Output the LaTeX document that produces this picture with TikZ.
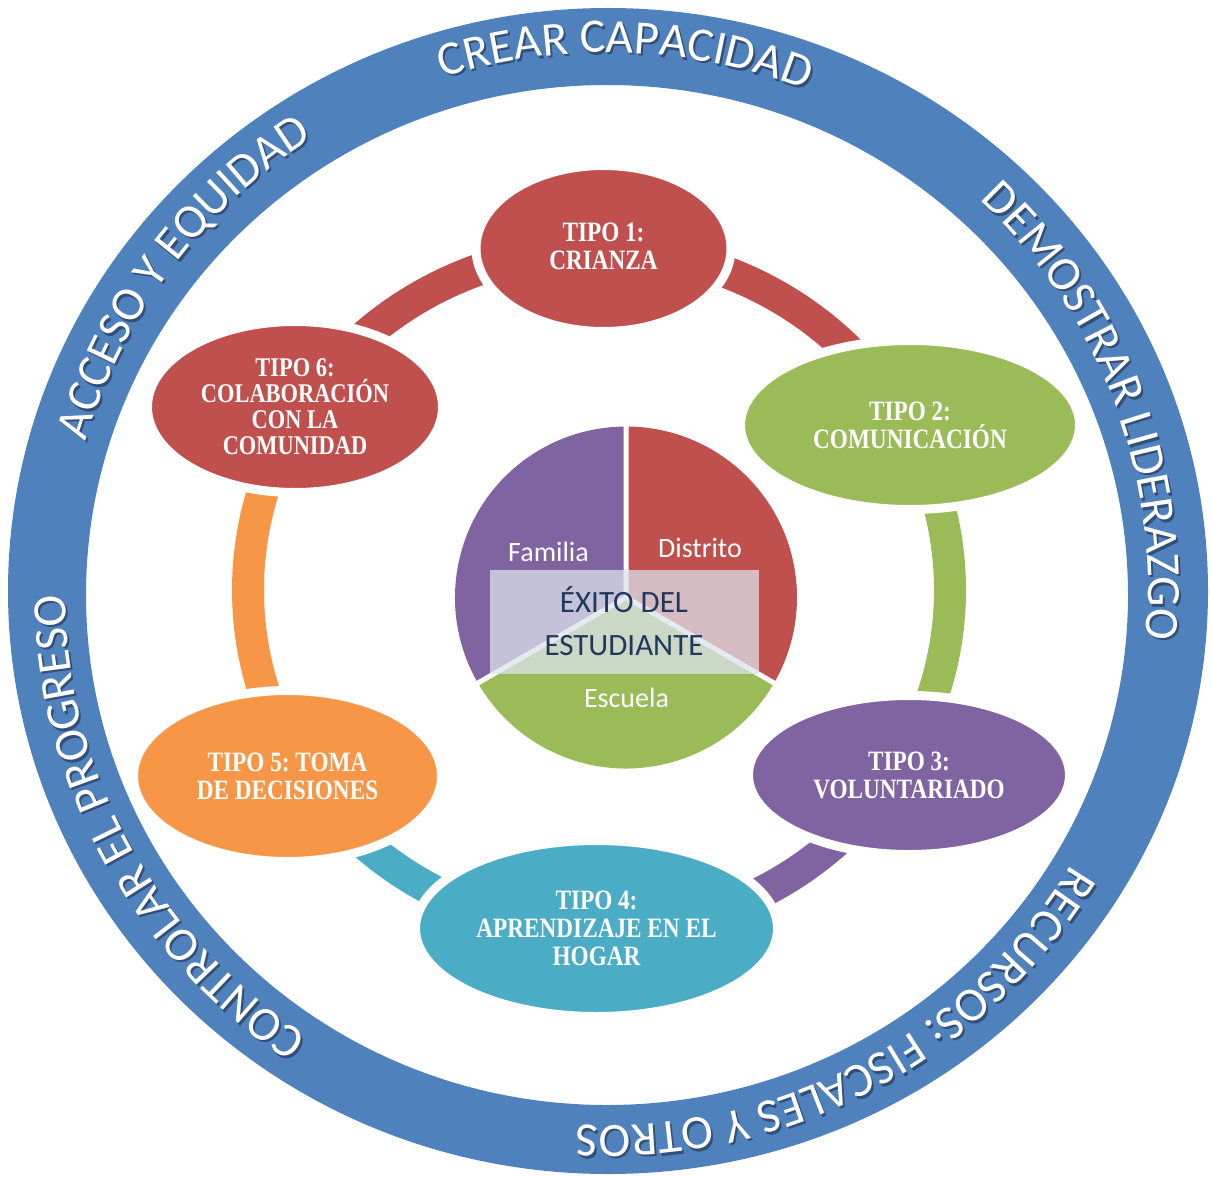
\documentclass[tikz,border=0pt]{standalone}
\usepackage{fontspec}
\usetikzlibrary{shapes.geometric,decorations.text,calc}
\setmainfont{Carlito}
\newfontfamily\ringfont{Carlito}
\newfontfamily\nodefont{Liberation Serif}[FakeStretch=0.83]
\definecolor{ringblue}{HTML}{4F81BD}
\definecolor{ringshadow}{rgb}{0.20,0.31,0.47}
\definecolor{tred}{HTML}{C0504D}
\definecolor{tgreen}{HTML}{9BBB59}
\definecolor{tpurple}{HTML}{8064A2}
\definecolor{tteal}{HTML}{4BACC6}
\definecolor{torange}{HTML}{F79646}
\definecolor{centerfill}{HTML}{DCE3EC}
\definecolor{centertext}{HTML}{1F385C}
\newcommand\ringlabel[3]{%
  \path[decorate,decoration={text along path,text align=center,
    text={|\ringfont\fontsize{48}{48}\selectfont\color{ringshadow}|#3}}]
    ($(608.5,591.5)+(#1:541.5 and 536.5)$) arc[start angle=#1,end angle=#2,x radius=541.5,y radius=536.5];
  \path[decorate,decoration={text along path,text align=center,
    text={|\ringfont\fontsize{48}{48}\selectfont\color{white}|#3}}]
    ($(606.5,589)+(#1:541.5 and 536.5)$) arc[start angle=#1,end angle=#2,x radius=541.5,y radius=536.5];
}
\tikzset{
  tnode/.style={ellipse, draw=white, line width=9pt, inner sep=0pt, text=white,
    align=center, font=\nodefont\bfseries\frenchspacing\fontsize{28}{28}\selectfont},
  cyclearc/.style={line width=32pt},
  pielbl/.style={text=white, anchor=base, font=\ringfont\fontsize{28}{28}\selectfont},
  centerlbl/.style={text=centertext, anchor=base, font=\ringfont\fontsize{31}{31}\selectfont}
}
\begin{document}
\begin{tikzpicture}[x=1pt,y=-1pt]
\useasboundingbox (0,0) rectangle (1212,1177);
\fill[white] (0,0) rectangle (1212,1177);
% outer ring
\fill[ringblue,even odd rule] (608,591) ellipse [x radius=600, y radius=583]
  (607,595) ellipse [x radius=521, y radius=510];
% ring texts
\ringlabel{-130}{-46}{CREAR CAPACIDAD}
\ringlabel{-70}{29}{DEMOSTRAR LIDERAZGO}
\ringlabel{15}{109}{RECURSOS: FISCALES Y OTROS}
\ringlabel{106}{197}{CONTROLAR EL PROGRESO}
\ringlabel{175}{258}{ACCESO Y EQUIDAD}
% cycle arcs
\coordinate (cc) at (599,590);
\coordinate (a1) at ($(cc)+(-90:351 and 341)$);
\coordinate (a2) at ($(cc)+(-30:351 and 341)$);
\coordinate (a3) at ($(cc)+(30:351 and 341)$);
\coordinate (a4) at ($(cc)+(90:351 and 341)$);
\coordinate (a5) at ($(cc)+(150:351 and 341)$);
\coordinate (a6) at ($(cc)+(210:351 and 341)$);
\draw[cyclearc,tred] (a1) arc[start angle=-90,end angle=-30,x radius=351,y radius=341];
\draw[cyclearc,tgreen] (a2) arc[start angle=-30,end angle=30,x radius=351,y radius=341];
\draw[cyclearc,tpurple] (a3) arc[start angle=30,end angle=90,x radius=351,y radius=341];
\draw[cyclearc,tteal] (a4) arc[start angle=90,end angle=150,x radius=351,y radius=341];
\draw[cyclearc,torange] (a5) arc[start angle=150,end angle=210,x radius=351,y radius=341];
\draw[cyclearc,tred] (a6) arc[start angle=210,end angle=270,x radius=351,y radius=341];
% center pie
\coordinate (pc) at (626,597.5);
\fill[tred] (pc) -- ($(pc)+(-90:171)$) arc[start angle=-90,end angle=30,radius=171] -- cycle;
\fill[tgreen] (pc) -- ($(pc)+(30:171)$) arc[start angle=30,end angle=150,radius=171] -- cycle;
\fill[tpurple] (pc) -- ($(pc)+(150:171)$) arc[start angle=150,end angle=270,radius=171] -- cycle;
\draw[white,line width=5pt] (pc) -- ($(pc)+(-90:174)$) (pc) -- ($(pc)+(30:174)$) (pc) -- ($(pc)+(150:174)$);
\node[pielbl] (fam) at (548.5,561) {Familia};
\node[pielbl] (dis) at (700,557) {Distrito};
\node[pielbl] (esc) at (626.5,707) {Escuela};
\node[fill=centerfill, fill opacity=0.74, minimum width=269pt, minimum height=104pt, inner sep=0pt] (rect) at (624.5,622) {};
\node[centerlbl] (ex1) at (624,612) {ÉXITO DEL};
\node[centerlbl] (ex2) at (624,655) {ESTUDIANTE};
% type nodes
\node[tnode, fill=tred, minimum width=255pt, minimum height=166pt] (t1) at (603.5,248.5) {TIPO 1:\\CRIANZA\rule[-4pt]{0pt}{4pt}};
\node[tnode, fill=tgreen, minimum width=339pt, minimum height=169pt] (t2) at (910,425) {TIPO 2:\\COMUNICACIÓN};
\node[tnode, fill=tpurple, minimum width=321pt, minimum height=159pt] (t3) at (909,775) {TIPO 3:\\VOLUNTARIADO};
\node[tnode, fill=tteal, minimum width=362pt, minimum height=176pt] (t4) at (596.5,928.5) {TIPO 4:\\APRENDIZAJE EN EL\\HOGAR};
\node[tnode, fill=torange, minimum width=308pt, minimum height=171pt] (t5) at (287.5,776) {TIPO 5: TOMA\\DE DECISIONES};
\node[tnode, fill=tred, minimum width=295pt, minimum height=171pt,
  font=\nodefont\bfseries\frenchspacing\fontsize{27}{26}\selectfont] (t6) at (295,407) {TIPO 6:\\COLABORACIÓN\\CON LA\\COMUNIDAD};
\end{tikzpicture}
\end{document}
